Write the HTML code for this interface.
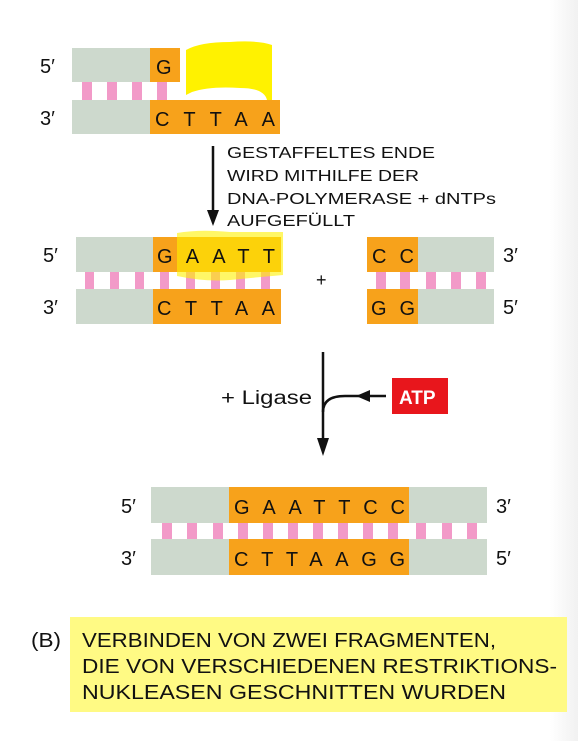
<!DOCTYPE html>
<html><head><meta charset="utf-8"><style>
html,body{margin:0;padding:0;background:#fff;}
svg{display:block;}
text{font-family:"Liberation Sans",Arial,sans-serif;fill:#111;}
</style></head><body>
<svg width="578" height="741" viewBox="0 0 578 741" xmlns="http://www.w3.org/2000/svg">
<defs>
<linearGradient id="edge" x1="0" x2="1"><stop offset="0" stop-color="#fff"/><stop offset="1" stop-color="#f1f1f1"/></linearGradient>
</defs>
<rect x="550" y="0" width="28" height="741" fill="url(#edge)"/>

<!-- TOP -->
<g fill="#f29ac8">
<rect x="82" y="80" width="10" height="24"/><rect x="107" y="80" width="10" height="24"/><rect x="132" y="80" width="10" height="24"/><rect x="157" y="80" width="10" height="24"/>
</g>
<rect x="72" y="48" width="78" height="34" fill="#cdd9cd"/>
<rect x="150" y="48" width="30" height="34" fill="#f7a21b"/>
<rect x="72" y="100" width="78" height="34" fill="#cdd9cd"/>
<rect x="150" y="100" width="130" height="34" fill="#f7a21b"/>
<path d="M186 50 Q200 42 230 42 Q258 40 272 45 L272 100 L267 100 Q264 88 240 88 Q210 86 192 92 L186 95 Z" fill="#fff200"/>
<text x="40" y="73" font-size="20">5′</text>
<text x="40" y="125" font-size="20">3′</text>
<text x="156" y="74" font-size="20">G</text>
<text x="155" y="126" font-size="20" textLength="120" lengthAdjust="spacing">CTTAA</text>

<!-- arrow 1 -->
<line x1="213" y1="146" x2="213" y2="212" stroke="#111" stroke-width="2.5"/>
<polygon points="207,210 219,210 213,226" fill="#111"/>
<g font-size="16">
<text x="227" y="158" textLength="208" lengthAdjust="spacingAndGlyphs">GESTAFFELTES ENDE</text>
<text x="227" y="181" textLength="192" lengthAdjust="spacingAndGlyphs">WIRD MITHILFE DER</text>
<text x="227" y="204" textLength="269" lengthAdjust="spacingAndGlyphs">DNA-POLYMERASE + dNTPs</text>
<text x="227" y="226" textLength="128" lengthAdjust="spacingAndGlyphs">AUFGEFÜLLT</text>
</g>

<!-- MIDDLE LEFT -->
<g fill="#f29ac8">
<rect x="85" y="270" width="9" height="22"/><rect x="110" y="270" width="9" height="22"/><rect x="135" y="270" width="9" height="22"/><rect x="160" y="270" width="9" height="22"/>
<rect x="186" y="270" width="9" height="22"/><rect x="211" y="270" width="9" height="22"/><rect x="236" y="270" width="9" height="22"/><rect x="261" y="270" width="9" height="22"/>
</g>
<rect x="76" y="237" width="77" height="35" fill="#cdd9cd"/>
<rect x="153" y="237" width="128" height="35" fill="#f7a21b"/>
<rect x="76" y="289" width="77" height="35" fill="#cdd9cd"/>
<rect x="153" y="289" width="128" height="35" fill="#f7a21b"/>
<path d="M177 233 Q200 229 230 232 L283 232 L283 275 Q250 278 230 280 Q205 282 177 276 Z" fill="#fff200" opacity="0.6"/>
<text x="43" y="262" font-size="20">5′</text>
<text x="43" y="314" font-size="20">3′</text>
<text x="157" y="263" font-size="20" textLength="118" lengthAdjust="spacing">GAATT</text>
<text x="157" y="315" font-size="20" textLength="118" lengthAdjust="spacing">CTTAA</text>
<text x="316" y="286" font-size="18">+</text>

<!-- MIDDLE RIGHT -->
<g fill="#f29ac8">
<rect x="376" y="270" width="10" height="22"/><rect x="400" y="270" width="10" height="22"/><rect x="426" y="270" width="10" height="22"/><rect x="451" y="270" width="10" height="22"/><rect x="476" y="270" width="10" height="22"/>
</g>
<rect x="367" y="237" width="51" height="35" fill="#f7a21b"/>
<rect x="418" y="237" width="76" height="35" fill="#cdd9cd"/>
<rect x="367" y="289" width="51" height="35" fill="#f7a21b"/>
<rect x="418" y="289" width="76" height="35" fill="#cdd9cd"/>
<text x="372" y="263" font-size="20" textLength="42" lengthAdjust="spacing">CC</text>
<text x="371" y="315" font-size="20" textLength="44" lengthAdjust="spacing">GG</text>
<text x="503" y="262" font-size="20">3′</text>
<text x="503" y="314" font-size="20">5′</text>

<!-- LIGASE ARROW -->
<line x1="323" y1="352" x2="323" y2="440" stroke="#111" stroke-width="2.5"/>
<polygon points="317,438 329,438 323,456" fill="#111"/>
<path d="M323 412 Q323 396 345 396 L386 396" fill="none" stroke="#111" stroke-width="2.5"/>
<polygon points="356,396 370,390 370,402" fill="#111"/>
<rect x="392" y="378" width="56" height="36" fill="#e8161c"/>
<text x="399" y="404" font-size="19" font-weight="bold" style="fill:#fff">ATP</text>
<text x="221" y="404" font-size="19" textLength="91" lengthAdjust="spacingAndGlyphs">+ Ligase</text>

<!-- BOTTOM -->
<g fill="#f29ac8">
<rect x="162" y="519" width="10" height="24"/><rect x="187" y="519" width="10" height="24"/><rect x="213" y="519" width="10" height="24"/><rect x="238" y="519" width="10" height="24"/><rect x="263" y="519" width="10" height="24"/><rect x="288" y="519" width="10" height="24"/><rect x="313" y="519" width="10" height="24"/><rect x="338" y="519" width="10" height="24"/><rect x="363" y="519" width="10" height="24"/><rect x="388" y="519" width="10" height="24"/><rect x="416" y="519" width="10" height="24"/><rect x="442" y="519" width="10" height="24"/><rect x="467" y="519" width="10" height="24"/>
</g>
<rect x="151" y="487" width="78" height="36" fill="#cdd9cd"/>
<rect x="229" y="487" width="180" height="36" fill="#f7a21b"/>
<rect x="409" y="487" width="78" height="36" fill="#cdd9cd"/>
<rect x="151" y="539" width="78" height="36" fill="#cdd9cd"/>
<rect x="229" y="539" width="180" height="36" fill="#f7a21b"/>
<rect x="409" y="539" width="78" height="36" fill="#cdd9cd"/>
<text x="234" y="514" font-size="20" textLength="171" lengthAdjust="spacing">GAATTCC</text>
<text x="234" y="566" font-size="20" textLength="171" lengthAdjust="spacing">CTTAAGG</text>
<text x="121" y="513" font-size="20">5′</text>
<text x="121" y="565" font-size="20">3′</text>
<text x="496" y="513" font-size="20">3′</text>
<text x="496" y="565" font-size="20">5′</text>

<!-- CAPTION -->
<rect x="70" y="617" width="497" height="95" fill="#fffa84"/>
<g font-size="20">
<text x="31" y="647" textLength="30" lengthAdjust="spacingAndGlyphs">(B)</text>
<text x="82" y="647" textLength="414" lengthAdjust="spacingAndGlyphs">VERBINDEN VON ZWEI FRAGMENTEN,</text>
<text x="82" y="673" textLength="475" lengthAdjust="spacingAndGlyphs">DIE VON VERSCHIEDENEN RESTRIKTIONS-</text>
<text x="82" y="699" textLength="424" lengthAdjust="spacingAndGlyphs">NUKLEASEN GESCHNITTEN WURDEN</text>
</g>
</svg>
</body></html>
